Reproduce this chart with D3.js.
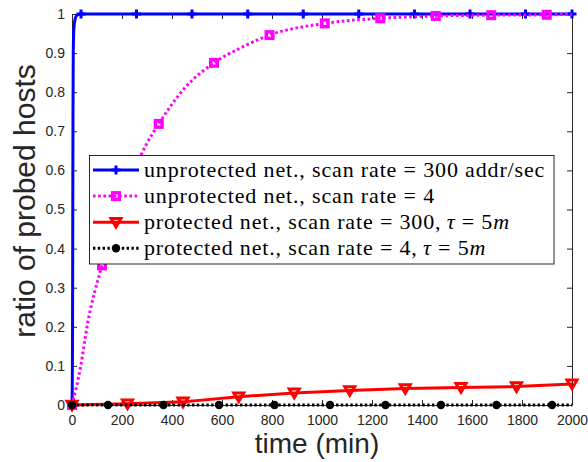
<html>
<head>
<meta charset="UTF-8">
<style>
  body { margin: 0; background: #fff; }
</style>
</head>
<body>
<script src="https://d3js.org/d3.v7.min.js"></script>
<script>

var width = 588, height = 462;

// data (time in min, ratio of probed hosts)
var blueT   = [0, 1, 2, 3, 4, 5, 7, 10, 15, 20, 36, 258, 480, 703, 925, 1147, 1370, 1592, 1814, 2000];
var blueV   = [0, 0.04, 0.15, 0.45, 0.75, 0.9, 0.955, 0.978, 0.992, 0.997, 1, 1, 1, 1, 1, 1, 1, 1, 1, 1];
var blueMarks = [36, 258, 480, 703, 925, 1147, 1370, 1592, 1814, 2000];

var pinkT   = [0, 35, 60, 120, 200, 296, 347, 450, 568, 680, 790, 1011, 1233, 1455, 1677, 1899, 2000];
var pinkV   = [0, 0.10, 0.20, 0.357, 0.52, 0.665, 0.719, 0.81, 0.875, 0.915, 0.946, 0.976, 0.989, 0.995, 0.997, 0.998, 0.999];
var pinkMarks = [0, 120, 347, 568, 790, 1011, 1233, 1455, 1677, 1899];

var redT    = [0, 222, 444, 667, 889, 1111, 1333, 1556, 1778, 2000];
var redV    = [0, 0.003, 0.008, 0.021, 0.031, 0.037, 0.042, 0.045, 0.047, 0.054];

var blackT  = [0, 144, 366, 588, 810, 1032, 1254, 1476, 1698, 1920, 2000];
var blackV  = [0, 0, 0, 0, 0, 0, 0, 0, 0, 0, 0];
var blackMarks = [0, 144, 366, 588, 810, 1032, 1254, 1476, 1698, 1920];

var xTicks = [0, 200, 400, 600, 800, 1000, 1200, 1400, 1600, 1800, 2000];
var yTicks = [0, 0.1, 0.2, 0.3, 0.4, 0.5, 0.6, 0.7, 0.8, 0.9, 1];

var legendLabels = [
  [["unprotected net., scan rate = 300 addr/sec", false]],
  [["unprotected net., scan rate = 4", false]],
  [["protected net., scan rate = 300,\u2009", false], ["\u03C4", true], [" = 5", false], ["m", true]],
  [["protected net., scan rate = 4,\u2009", false], ["\u03C4", true], [" = 5", false], ["m", true]]
];

function zip(t, v) { return t.map(function(d, i) { return [d, v[i]]; }); }
function at(t, v, ts) { return ts.map(function(d) { return [d, v[t.indexOf(d)]]; }); }

var axisColor = "#262626";

var svg = d3.select("body").append("svg")
    .attr("width", width).attr("height", height);

var x = d3.scaleLinear().domain([0, 2000]).range([72, 572]);
var y = d3.scaleLinear().domain([0, 1]).range([405, 14]);

// axes (ticks inward, box)
var gx = svg.append("g").attr("transform", "translate(0," + y(0) + ")")
    .call(d3.axisBottom(x).tickValues(xTicks).tickSize(-5).tickSizeOuter(0).tickPadding(10)
      .tickFormat(d3.format("d")));
var gxt = svg.append("g").attr("transform", "translate(0," + y(1) + ")")
    .call(d3.axisTop(x).tickValues(xTicks).tickSize(-5).tickSizeOuter(0).tickFormat(""));
var gy = svg.append("g").attr("transform", "translate(" + x(0) + ",0)")
    .call(d3.axisLeft(y).tickValues(yTicks).tickSize(-5).tickSizeOuter(0).tickPadding(7)
      .tickFormat(function(d) { return d === 0 || d === 1 ? d : d3.format(".1f")(d); }));
var gyr = svg.append("g").attr("transform", "translate(" + x(2000) + ",0)")
    .call(d3.axisRight(y).tickValues(yTicks).tickSize(-5).tickSizeOuter(0).tickFormat(""));

[gx, gxt, gy, gyr].forEach(function(g) {
  g.select(".domain").attr("stroke", axisColor).attr("stroke-width", 1);
  g.selectAll(".tick line").attr("stroke", axisColor).attr("stroke-width", 1);
  g.selectAll(".tick text").attr("fill", axisColor)
    .style("font-family", "'Liberation Sans', Arial, sans-serif").style("font-size", "14px");
});

// axis titles
svg.append("text")
    .attr("x", 317).attr("y", 453)
    .attr("text-anchor", "middle")
    .attr("fill", axisColor)
    .style("font-family", "'Liberation Sans', Arial, sans-serif").style("font-size", "28px")
    .text("time (min)");

svg.append("text")
    .attr("transform", "translate(35,201) rotate(-90)")
    .attr("text-anchor", "middle")
    .attr("fill", axisColor)
    .style("font-family", "'Liberation Sans', Arial, sans-serif").style("font-size", "30px")
    .text("ratio of probed hosts");

var line = d3.line().x(function(d) { return x(d[0]); }).y(function(d) { return y(d[1]); });
var smooth = d3.line().curve(d3.curveMonotoneX).x(function(d) { return x(d[0]); }).y(function(d) { return y(d[1]); });

var series = [
  { color: "#0000ff", dash: null, gen: smooth, pts: zip(blueT, blueV), marks: at(blueT, blueV, blueMarks), marker: "plus" },
  { color: "#ff00ff", dash: "2.6,2.6", gen: smooth, pts: zip(pinkT, pinkV), marks: at(pinkT, pinkV, pinkMarks), marker: "square" },
  { color: "#ff0000", dash: null, gen: line, pts: zip(redT, redV), marks: zip(redT, redV), marker: "tri" },
  { color: "#000000", dash: "2.4,2.4", gen: line, pts: zip(blackT, blackV), marks: at(blackT, blackV, blackMarks), marker: "dot" }
];

function drawMarker(g, type, color) {
  if (type === "plus") {
    g.append("path").attr("d", "M-4.5,0H4.5M0,-4.5V4.5")
      .attr("stroke", color).attr("stroke-width", 3).attr("fill", "none");
  } else if (type === "square") {
    g.append("rect").attr("x", -3.3).attr("y", -3.3).attr("width", 6.6).attr("height", 6.6)
      .attr("stroke", color).attr("stroke-width", 3.4).attr("fill", "none");
  } else if (type === "tri") {
    g.append("path").attr("d", "M-5,-3.8L5,-3.8L0,4.8Z")
      .attr("stroke", color).attr("stroke-width", 3).attr("stroke-linejoin", "miter").attr("fill", "none");
  } else {
    g.append("circle").attr("r", 4.2).attr("fill", color);
  }
}

series.forEach(function(s) {
  var p = svg.append("path")
      .attr("d", s.gen(s.pts))
      .attr("fill", "none")
      .attr("stroke", s.color)
      .attr("stroke-width", 3);
  if (s.dash) p.attr("stroke-dasharray", s.dash);
  s.marks.forEach(function(m) {
    var g = svg.append("g").attr("transform", "translate(" + x(m[0]) + "," + y(m[1]) + ")");
    drawMarker(g, s.marker, s.color);
  });
});

// legend
var leg = svg.append("g");
leg.append("rect")
    .attr("x", 89.5).attr("y", 155.5).attr("width", 464.5).attr("height", 108.5)
    .attr("fill", "#fff").attr("stroke", axisColor).attr("stroke-width", 1);

series.forEach(function(s, i) {
  var cy = 170 + i * 26.1;
  var l = leg.append("line")
      .attr("x1", 93).attr("x2", 139).attr("y1", cy).attr("y2", cy)
      .attr("stroke", s.color).attr("stroke-width", 3);
  if (s.dash) l.attr("stroke-dasharray", s.dash);
  drawMarker(leg.append("g").attr("transform", "translate(116," + cy + ")"), s.marker, s.color);
  var t = leg.append("text")
      .attr("x", 144).attr("y", cy + 6.5)
      .attr("fill", "#000")
      .style("font-family", "'Liberation Serif', 'Times New Roman', serif").style("font-size", "22px")
      .style("letter-spacing", "0.85px")
      .style("white-space", "pre");
  legendLabels[i].forEach(function(part) {
    t.append("tspan").style("font-style", part[1] ? "italic" : "normal").text(part[0]);
  });
});

    </script>
  </body>
</html>
